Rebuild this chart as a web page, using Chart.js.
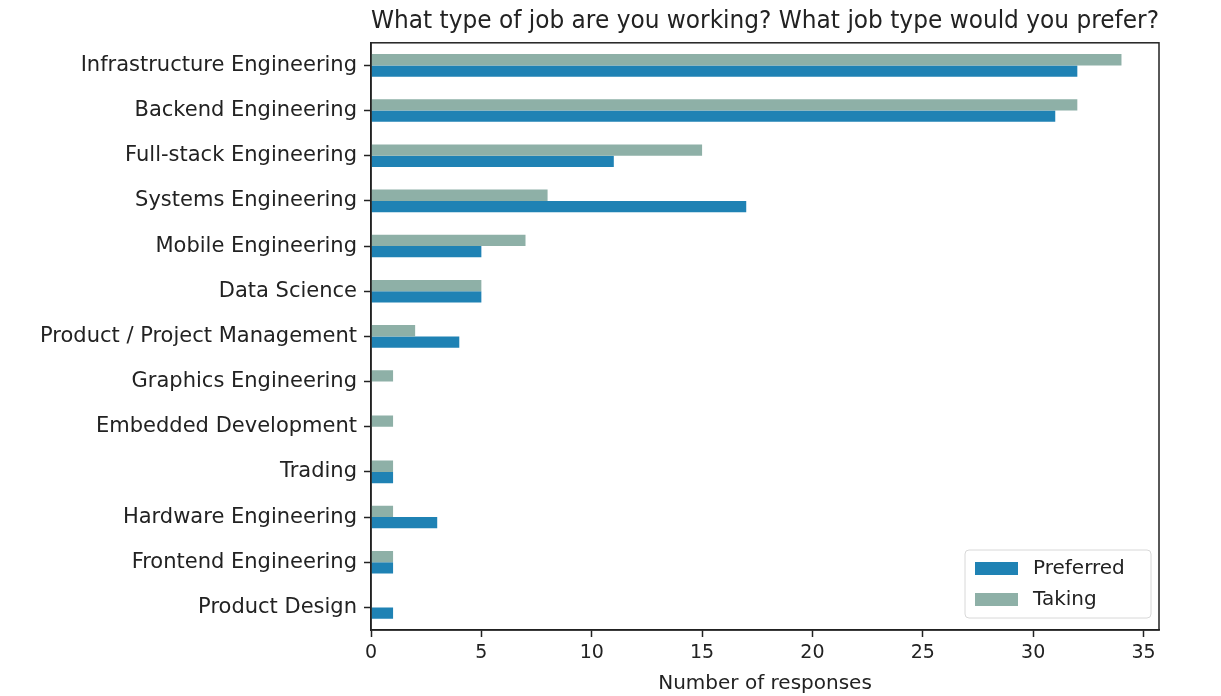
<!DOCTYPE html>
<html>
<head>
<meta charset="utf-8">
<script src="https://cdn.jsdelivr.net/npm/chart.js@4/dist/chart.umd.min.js"></script>
<style>
  html, body { margin: 0; padding: 0; background: #fff; }
  #wrap { width: 1221px; height: 696px; }
</style>
</head>
<body>
<div id="wrap"><canvas id="bar-jobs"></canvas></div>
<script>
const jobTypes = [
    "Infrastructure Engineering",
    "Backend Engineering",
    "Full-stack Engineering",
    "Systems Engineering",
    "Mobile Engineering",
    "Data Science",
    "Product / Project Management",
    "Graphics Engineering",
    "Embedded Development",
    "Trading",
    "Hardware Engineering",
    "Frontend Engineering",
    "Product Design",
];
const preferred = [32, 31, 11, 17, 5, 5, 4, 0, 0, 1, 3, 1, 1];
const taking = [34, 32, 15, 8, 7, 5, 2, 1, 1, 1, 1, 1, 0];
const xTicks = [0, 5, 10, 15, 20, 25, 30, 35];

const fontFamily = "'DejaVu Sans', 'Open Sans', sans-serif";
const inkColor = "#222222";

// box around the plot plus a matplotlib-like legend in the bottom right corner
const framePlugin = {
    id: "frame",
    afterDraw(chart) {
        const ctx = chart.ctx;
        const a = chart.chartArea;
        ctx.save();
        ctx.strokeStyle = inkColor;
        ctx.lineWidth = 1.5;
        ctx.strokeRect(a.left, a.top, a.right - a.left, a.bottom - a.top);

        const boxW = 186, boxH = 68;
        const bx = a.right - 194, by = a.bottom - 80;
        ctx.fillStyle = "rgba(255,255,255,0.85)";
        ctx.strokeStyle = "#d8d8d8";
        ctx.lineWidth = 1;
        ctx.beginPath();
        ctx.roundRect(bx, by, boxW, boxH, 4);
        ctx.fill();
        ctx.stroke();

        const items = [chart.data.datasets[1], chart.data.datasets[0]];
        ctx.font = "20px " + fontFamily;
        ctx.textBaseline = "middle";
        items.forEach((ds, i) => {
            const y = by + 18 + i * 31;
            ctx.fillStyle = ds.backgroundColor;
            ctx.fillRect(bx + 10, y - 6, 43, 13);
            ctx.fillStyle = inkColor;
            ctx.fillText(ds.label, bx + 68, y + 1);
        });
        ctx.restore();
    },
};

const data = {
    labels: jobTypes,
    datasets: [
        {
            label: "Taking",
            data: taking,
            backgroundColor: "#8eb0a7",
            categoryPercentage: 0.5,
            barPercentage: 1.0,
        },
        {
            label: "Preferred",
            data: preferred,
            backgroundColor: "#1f82b4",
            categoryPercentage: 0.5,
            barPercentage: 1.0,
        },
    ],
};

const config = {
    type: "bar",
    data: data,
    options: {
        indexAxis: "y",
        responsive: true,
        maintainAspectRatio: false,
        animation: false,
        layout: {
            padding: { top: 0, right: 62, bottom: 0, left: 0 },
        },
        scales: {
            x: {
                min: 0,
                max: 35.7,
                afterBuildTicks: (scale) => {
                    scale.ticks = xTicks.map((v) => ({ value: v }));
                },
                afterFit: (scale) => {
                    scale.height = 66;
                },
                grid: {
                    display: true,
                    drawOnChartArea: false,
                    drawTicks: true,
                    tickLength: 7,
                    tickWidth: 1.5,
                    color: inkColor,
                },
                border: { display: true, color: inkColor, width: 1.5 },
                ticks: {
                    padding: 5,
                    color: inkColor,
                    font: { family: fontFamily, size: 19 },
                },
                title: {
                    display: true,
                    text: "Number of responses",
                    color: inkColor,
                    padding: { top: 0, bottom: 0 },
                    font: { family: fontFamily, size: 20 },
                },
            },
            y: {
                afterFit: (scale) => {
                    scale.width = 371;
                },
                grid: {
                    display: true,
                    offset: false,
                    drawOnChartArea: false,
                    drawTicks: true,
                    tickLength: 7,
                    tickWidth: 1.5,
                    color: inkColor,
                },
                border: { display: true, color: inkColor, width: 1.5 },
                ticks: {
                    padding: 7,
                    color: inkColor,
                    autoSkip: false,
                    font: { family: fontFamily, size: 21 },
                },
            },
        },
        plugins: {
            title: {
                display: true,
                text: "What type of job are you working? What job type would you prefer?",
                fullSize: false,
                color: inkColor,
                padding: { top: 7, bottom: 7 },
                font: { family: fontFamily, size: 24, weight: "normal" },
            },
            legend: {
                display: false,
            },
            tooltip: { enabled: false },
        },
    },
    plugins: [framePlugin],
};

const barChart = new Chart(document.getElementById("bar-jobs"), config);
</script>
</body>
</html>
